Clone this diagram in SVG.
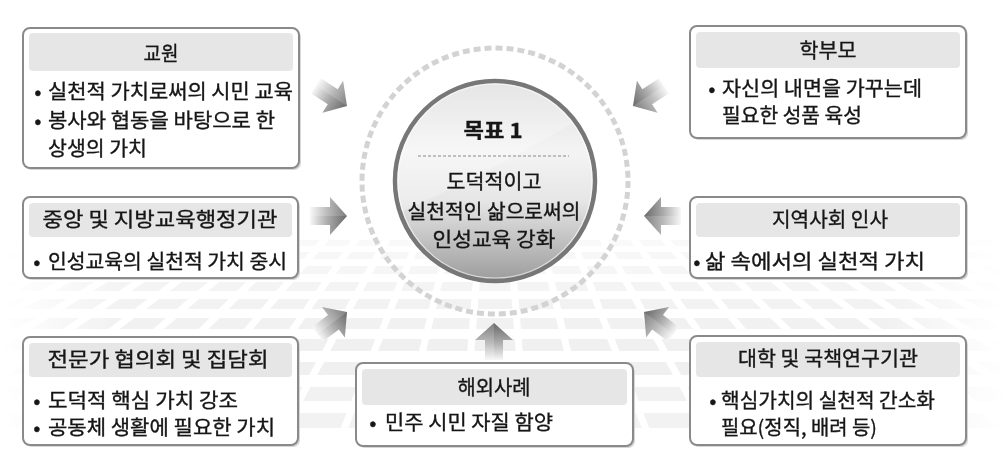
<svg xmlns="http://www.w3.org/2000/svg" width="1005" height="461" viewBox="0 0 1005 461">
<defs>
<style>
text{font-family:"Noto Sans CJK KR","Noto Sans",sans-serif;font-size:20px;fill:#161616;stroke:#161616;stroke-width:0.35}
.hd{text-anchor:middle}
.bul{text-anchor:middle}
.box{fill:#fff;stroke:#8a8a8a;stroke-width:2}
.band{fill:#e6e6e6}
.sh{fill:#d6d6d6}
.tile{fill:#eeeeee}
.gap{stroke:#fff;stroke-width:7}
</style>
<linearGradient id="ag" x1="0" y1="0" x2="1" y2="0">
<stop offset="0" stop-color="#f8f8f8"/>
<stop offset="0.45" stop-color="#bdbdbd"/>
<stop offset="1" stop-color="#7e7e7e"/>
</linearGradient>
<linearGradient id="ag2" x1="0" y1="0" x2="1" y2="0">
<stop offset="0" stop-color="#000" stop-opacity="0"/>
<stop offset="1" stop-color="#000" stop-opacity="0.16"/>
</linearGradient>
<g id="arw">
<path d="M0,0 L-17,-19 L-17,-9 L-37,-9 L-37,9 L-17,9 L-17,19 Z" fill="url(#ag)"/>
<path d="M0,0 L-17,19 L-17,9 L-37,9 L-37,0 Z" fill="url(#ag2)"/>
</g>
<linearGradient id="cg" x1="0" y1="0" x2="0" y2="1">
<stop offset="0" stop-color="#dcdcdc"/>
<stop offset="0.35" stop-color="#f4f4f4"/>
<stop offset="0.6" stop-color="#e6e6e6"/>
<stop offset="1" stop-color="#9c9c9c"/>
</linearGradient>
<linearGradient id="fadeH" x1="0" y1="0" x2="1" y2="0">
<stop offset="0" stop-color="#000"/>
<stop offset="0.12" stop-color="#fff"/>
<stop offset="0.88" stop-color="#fff"/>
<stop offset="1" stop-color="#000"/>
</linearGradient>
<mask id="bgMask">
<rect x="0" y="0" width="1005" height="461" fill="url(#fadeH)"/>
</mask>
<clipPath id="cc"><circle cx="495" cy="181" r="98"/></clipPath>
</defs>

<g id="background" mask="url(#bgMask)">
<rect class="tile" x="0" y="240" width="1005" height="6" opacity="0.35"/>
<rect class="tile" x="0" y="252" width="1005" height="7" opacity="0.45"/>
<rect class="tile" x="0" y="266" width="1005" height="8" opacity="0.55"/>
<rect class="tile" x="0" y="282" width="1005" height="9" opacity="0.65"/>
<rect class="tile" x="0" y="299" width="1005" height="10" opacity="0.75"/>
<rect class="tile" x="0" y="318" width="1005" height="11" opacity="0.85"/>
<rect class="tile" x="0" y="339" width="1005" height="12" opacity="0.9"/>
<rect class="tile" x="0" y="362" width="1005" height="13" opacity="0.9"/>
<rect class="tile" x="0" y="387" width="1005" height="14" opacity="0.85"/>
<rect class="tile" x="0" y="413" width="1005" height="15" opacity="0.75"/>
<g class="gap">
<line x1="509.7" y1="230" x2="527.6" y2="460"/>
<line x1="480.3" y1="230" x2="462.4" y2="460"/>
<line x1="539.2" y1="230" x2="592.7" y2="460"/>
<line x1="450.8" y1="230" x2="397.3" y2="460"/>
<line x1="568.7" y1="230" x2="657.9" y2="460"/>
<line x1="421.3" y1="230" x2="332.1" y2="460"/>
<line x1="598.2" y1="230" x2="723.1" y2="460"/>
<line x1="391.8" y1="230" x2="266.9" y2="460"/>
<line x1="627.6" y1="230" x2="788.2" y2="460"/>
<line x1="362.4" y1="230" x2="201.8" y2="460"/>
<line x1="657.1" y1="230" x2="853.4" y2="460"/>
<line x1="332.9" y1="230" x2="136.6" y2="460"/>
<line x1="686.6" y1="230" x2="918.6" y2="460"/>
<line x1="303.4" y1="230" x2="71.4" y2="460"/>
<line x1="716.1" y1="230" x2="983.7" y2="460"/>
<line x1="273.9" y1="230" x2="6.3" y2="460"/>
<line x1="745.6" y1="230" x2="1048.9" y2="460"/>
<line x1="244.4" y1="230" x2="-58.9" y2="460"/>
<line x1="775.1" y1="230" x2="1114" y2="460"/>
<line x1="214.9" y1="230" x2="-124" y2="460"/>
<line x1="804.6" y1="230" x2="1179" y2="460"/>
<line x1="185.4" y1="230" x2="-189" y2="460"/>
<line x1="834" y1="230" x2="1244" y2="460"/>
<line x1="156" y1="230" x2="-254" y2="460"/>
<line x1="863.5" y1="230" x2="1310" y2="460"/>
<line x1="126.5" y1="230" x2="-320" y2="460"/>
<line x1="893" y1="230" x2="1375" y2="460"/>
<line x1="97" y1="230" x2="-385" y2="460"/>
</g>
</g>

<g id="connectors">
<use href="#arw" transform="translate(347,106) rotate(33)"/>
<use href="#arw" transform="translate(633,106) rotate(147)"/>
<use href="#arw" transform="translate(347,216)"/>
<use href="#arw" transform="translate(644,216) rotate(180)"/>
<use href="#arw" transform="translate(347,312) rotate(-37)"/>
<use href="#arw" transform="translate(644,312) rotate(-143)"/>
<use href="#arw" transform="translate(494,323) rotate(-90)"/>
</g>

<g id="goal">
<circle cx="495" cy="181" r="133" fill="none" stroke="#d3d3d3" stroke-width="5" stroke-dasharray="7 4"/>
<circle cx="495" cy="181" r="100" fill="url(#cg)" stroke="#777" stroke-width="4.5"/>
<path d="M395,215 C450,190 530,150 595,110 L600,60 L390,60 Z" fill="#fff" opacity="0.25" clip-path="url(#cc)"/>
<circle cx="495" cy="181" r="97" fill="none" stroke="#fff" stroke-width="1.2" opacity="0.6"/>
<text class="hd" x="493" y="138" font-size="22" font-weight="bold" textLength="59" lengthAdjust="spacingAndGlyphs">목표 1</text>
<line x1="418" y1="156" x2="569" y2="156" stroke="#8a8a8a" stroke-width="1" stroke-dasharray="3 2"/>
<text class="hd" x="494" y="189" textLength="95" lengthAdjust="spacingAndGlyphs">도덕적이고</text>
<text class="hd" x="494" y="219" textLength="173" lengthAdjust="spacingAndGlyphs">실천적인 삶으로써의</text>
<text class="hd" x="494" y="247" textLength="123" lengthAdjust="spacingAndGlyphs">인성교육 강화</text>
</g>

<g id="node-teacher">
<rect class="sh" x="25" y="30" width="276" height="140" rx="7"/>
<rect class="box" x="23" y="28" width="276" height="140" rx="7"/>
<rect class="band" x="29" y="33" width="264" height="38" rx="4"/>
<text class="hd" x="161" y="61" textLength="35" lengthAdjust="spacingAndGlyphs">교원</text>
<text class="bul" x="38" y="99">•</text>
<text x="48" y="99" textLength="245" lengthAdjust="spacingAndGlyphs">실천적 가치로써의 시민 교육</text>
<text class="bul" x="38" y="128">•</text>
<text x="48" y="128" textLength="227" lengthAdjust="spacingAndGlyphs">봉사와 협동을 바탕으로 한</text>
<text x="48" y="156" textLength="99" lengthAdjust="spacingAndGlyphs">상생의 가치</text>
</g>

<g id="node-parents">
<rect class="sh" x="692" y="28" width="276" height="112" rx="7"/>
<rect class="box" x="690" y="26" width="276" height="112" rx="7"/>
<rect class="band" x="696" y="32" width="264" height="36" rx="4"/>
<text class="hd" x="828" y="58" textLength="57" lengthAdjust="spacingAndGlyphs">학부모</text>
<text class="bul" x="712" y="96">•</text>
<text x="722" y="96" textLength="200" lengthAdjust="spacingAndGlyphs">자신의 내면을 가꾸는데</text>
<text x="722" y="123" textLength="140" lengthAdjust="spacingAndGlyphs">필요한 성품 육성</text>
</g>

<g id="node-admin">
<rect class="sh" x="25" y="199" width="275" height="81" rx="7"/>
<rect class="box" x="23" y="197" width="275" height="81" rx="7"/>
<rect class="band" x="29" y="203" width="263" height="34" rx="4"/>
<text class="hd" x="160" y="227" textLength="235" lengthAdjust="spacingAndGlyphs">중앙 및 지방교육행정기관</text>
<text class="bul" x="37" y="269">•</text>
<text x="48" y="269" textLength="239" lengthAdjust="spacingAndGlyphs">인성교육의 실천적 가치 중시</text>
</g>

<g id="node-community">
<rect class="sh" x="692" y="199" width="276" height="81" rx="7"/>
<rect class="box" x="690" y="197" width="276" height="81" rx="7"/>
<rect class="band" x="696" y="203" width="264" height="34" rx="4"/>
<text class="hd" x="830" y="227" textLength="116" lengthAdjust="spacingAndGlyphs">지역사회 인사</text>
<text class="bul" x="697" y="269">•</text>
<text x="705" y="269" textLength="220" lengthAdjust="spacingAndGlyphs">삶 속에서의 실천적 가치</text>
</g>

<g id="node-experts">
<rect class="sh" x="25" y="339" width="275" height="108" rx="7"/>
<rect class="box" x="23" y="337" width="275" height="108" rx="7"/>
<rect class="band" x="29" y="343" width="263" height="34" rx="4"/>
<text class="hd" x="158" y="367" textLength="221" lengthAdjust="spacingAndGlyphs">전문가 협의회 및 집담회</text>
<text class="bul" x="37" y="408">•</text>
<text x="48" y="408" textLength="190" lengthAdjust="spacingAndGlyphs">도덕적 핵심 가치 강조</text>
<text class="bul" x="37" y="435">•</text>
<text x="48" y="435" textLength="227" lengthAdjust="spacingAndGlyphs">공동체 생활에 필요한 가치</text>
</g>

<g id="node-overseas">
<rect class="sh" x="358" y="365" width="277" height="83" rx="7"/>
<rect class="box" x="356" y="363" width="277" height="83" rx="7"/>
<rect class="band" x="362" y="369" width="265" height="36" rx="4"/>
<text class="hd" x="494" y="395" textLength="73" lengthAdjust="spacingAndGlyphs">해외사례</text>
<text class="bul" x="373" y="430">•</text>
<text x="385" y="430" textLength="168" lengthAdjust="spacingAndGlyphs">민주 시민 자질 함양</text>
</g>

<g id="node-univ">
<rect class="sh" x="692" y="338" width="276" height="109" rx="7"/>
<rect class="box" x="690" y="336" width="276" height="109" rx="7"/>
<rect class="band" x="696" y="342" width="264" height="35" rx="4"/>
<text class="hd" x="828" y="366" textLength="180" lengthAdjust="spacingAndGlyphs">대학 및 국책연구기관</text>
<text class="bul" x="713" y="408">•</text>
<text x="721" y="408" textLength="214" lengthAdjust="spacingAndGlyphs">핵심가치의 실천적 간소화</text>
<text x="721" y="435" textLength="156" lengthAdjust="spacingAndGlyphs">필요(정직, 배려 등)</text>
</g>
</svg>
